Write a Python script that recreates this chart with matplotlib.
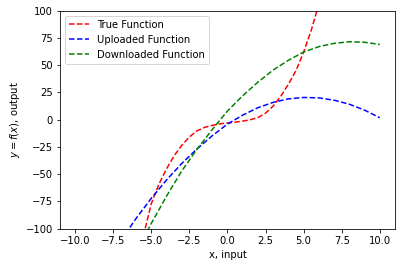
import numpy as np
import matplotlib
matplotlib.use('Agg')
import matplotlib.pyplot as plt

# values
x_true = [-6.0, -5.5, -5.0, -4.5, -4.0, -3.5, -3.0, -2.5, -2.0, -1.5, -1.0, -0.5, 0.0,
          0.5, 1.0, 1.5, 2.0, 2.5, 3.0, 3.5, 4.0, 4.5, 5.0, 5.5, 6.0, 6.5]
y_true = [-135, -105, -77, -59, -45, -33, -23.5, -15.8, -10.2, -7.0, -5.2, -3.8, -3.0,
          -2.3, -1.3, 0.0, 2.0, 6.0, 12.5, 21.5, 32.5, 45, 62, 82, 106, 135]

x_up = [-7, -6, -5, -4, -3, -2, -1, 0, 1, 2, 3, 4, 5, 6, 7, 8, 9, 10]
y_up = [-110.8, -90.5, -72.0, -55.2, -40.1, -26.8, -14.7, -4.0, 4.2, 11.0, 15.9,
        19.1, 20.4, 20.0, 17.9, 14.2, 8.8, 1.8]

x_down = [-6, -5, -4, -3, -2, -1, 0, 1, 2, 3, 4, 5, 6, 7, 8, 9, 10]
y_down = [-122, -95, -70, -47, -27, -9, 8, 22, 34.5, 45.5, 54.5, 62, 67, 70, 71.5, 71, 69]

fig = plt.figure(figsize=(401/72, 266/72), dpi=72)
ax = fig.add_axes([0.1496, 0.140, 0.8354, 0.820])

ax.plot(x_true, y_true, 'r--', label='True Function')
ax.plot(x_up, y_up, 'b--', label='Uploaded Function')
ax.plot(x_down, y_down, 'g--', label='Downloaded Function')

ax.set_xlim(-11, 11)
ax.set_ylim(-100, 100)
ax.set_xticks([-10, -7.5, -5, -2.5, 0, 2.5, 5, 7.5, 10])
ax.set_yticks([-100, -75, -50, -25, 0, 25, 50, 75, 100])
ax.set_xlabel('x, input')
ax.set_ylabel('$y = f(x)$, output')
ax.legend(loc='upper left')

fig.savefig('out.png', dpi=72)
